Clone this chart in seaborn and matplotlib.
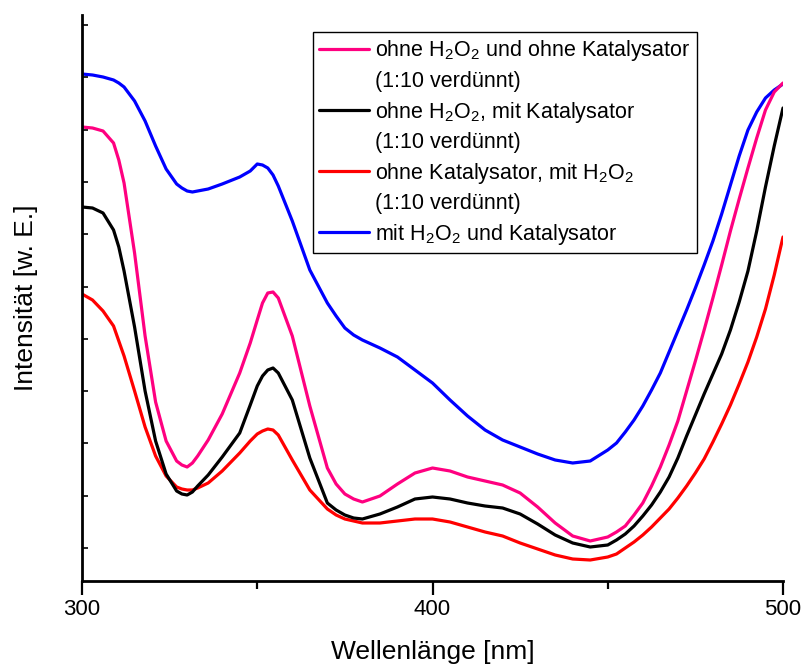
import numpy as np
import pandas as pd
import matplotlib
matplotlib.use("Agg")
import matplotlib.pyplot as plt
from matplotlib.lines import Line2D
import seaborn as sns

# ---- data (arbitrary intensity units) ----
wavelength = [300, 303, 306, 309, 310.5, 312, 315, 318, 321, 324,
              327, 328.5, 330, 331.5, 333, 336, 340, 345, 348, 350,
              351.5, 353, 354.5, 356, 360, 365, 370, 372.5, 375, 377.5,
              380, 385, 390, 395, 400, 405, 410, 415, 420, 425,
              430, 435, 440, 445, 450, 452.5, 455, 457.5, 460, 462.5,
              465, 467.5, 470, 472.5, 475, 477.5, 480, 482.5, 485, 487.5,
              490, 492.5, 495, 497.5, 500]

ohne_h2o2_ohne_kat = [454, 453, 450, 438, 421, 398, 328, 245, 179, 140,
                      120, 116, 114, 118, 125, 141, 167, 208, 238, 261,
                      278, 288, 289, 283, 245, 175, 113, 97, 87, 82,
                      79, 85, 97, 108, 113, 110, 104, 100, 96, 88,
                      74, 58, 45, 40, 44, 49, 55, 66, 78, 95,
                      114, 136, 160, 190, 220, 251, 283, 316, 350, 382,
                      413, 443, 471, 489, 498]

ohne_h2o2_mit_kat = [374, 373, 368, 351, 334, 310, 254, 190, 140, 107,
                     90, 87, 86, 89, 95, 106, 124, 148, 176, 195,
                     205, 211, 213, 208, 181, 123, 78, 71, 66, 63,
                     62, 67, 74, 82, 84, 82, 78, 75, 73, 67,
                     57, 46, 38, 34, 36, 41, 47, 55, 65, 76,
                     89, 104, 123, 145, 166, 187, 207, 227, 251, 279,
                     310, 350, 394, 435, 473]

ohne_kat_mit_h2o2 = [287, 281, 270, 255, 240, 225, 190, 154, 125, 105,
                     94, 92, 91, 91, 93, 98, 110, 128, 140, 147,
                     150, 152, 151, 146, 121, 91, 72, 66, 62, 60,
                     58, 58, 60, 62, 62, 59, 54, 49, 45, 38,
                     32, 26, 22, 21, 24, 27, 33, 39, 46, 54,
                     63, 72, 83, 95, 108, 122, 139, 157, 176, 197,
                     219, 244, 272, 306, 344]

mit_h2o2_mit_kat = [507, 506, 504, 501, 498, 494, 480, 460, 435, 412,
                    397, 393, 390, 389, 390, 392, 397, 404, 410, 417,
                    416, 413, 406, 395, 360, 311, 278, 265, 253, 246,
                    241, 233, 224, 211, 198, 181, 165, 151, 141, 134,
                    127, 121, 118, 120, 131, 138, 149, 161, 175, 191,
                    208, 229, 250, 271, 293, 316, 340, 367, 396, 425,
                    451, 469, 483, 491, 497]

series_names = ["mit H2O2 und Katalysator",
                "ohne Katalysator, mit H2O2",
                "ohne H2O2, mit Katalysator",
                "ohne H2O2 und ohne Katalysator"]
series_values = [mit_h2o2_mit_kat, ohne_kat_mit_h2o2,
                 ohne_h2o2_mit_kat, ohne_h2o2_ohne_kat]
colors = {"ohne H2O2 und ohne Katalysator": "#FF0080",
          "ohne H2O2, mit Katalysator": "#000000",
          "ohne Katalysator, mit H2O2": "#FF0000",
          "mit H2O2 und Katalysator": "#0000FF"}

legend_labels = ["ohne H$_2$O$_2$ und ohne Katalysator", "(1:10 verdünnt)",
                 "ohne H$_2$O$_2$, mit Katalysator", "(1:10 verdünnt)",
                 "ohne Katalysator, mit H$_2$O$_2$", "(1:10 verdünnt)",
                 "mit H$_2$O$_2$ und Katalysator"]
legend_keys = ["ohne H2O2 und ohne Katalysator", None,
               "ohne H2O2, mit Katalysator", None,
               "ohne Katalysator, mit H2O2", None,
               "mit H2O2 und Katalysator"]

rows = []
for name, vals in zip(series_names, series_values):
    for w, v in zip(wavelength, vals):
        rows.append({"wl": w, "val": v, "series": name})
df = pd.DataFrame(rows)

# ---- style ----
sns.set_theme(style="white")
plt.rcParams["font.family"] = ["Liberation Sans", "DejaVu Sans"]
plt.rcParams["mathtext.default"] = "regular"
for k in ["text.color", "axes.labelcolor", "xtick.color", "ytick.color",
          "xtick.labelcolor", "ytick.labelcolor"]:
    plt.rcParams[k] = "black"

fig = plt.figure(figsize=(8.03, 6.66), dpi=100)
ax = fig.add_axes([82 / 803, 85 / 666, 701 / 803, 566 / 666])

sns.lineplot(data=df, x="wl", y="val", hue="series", hue_order=series_names,
             palette=colors, linewidth=2.3, legend=False, ax=ax)
for ln in ax.get_lines():
    ln.set_solid_joinstyle("round")

ax.set_xlim(300, 500)
ax.set_ylim(0, 566)

for s in ["top", "right"]:
    ax.spines[s].set_visible(False)
for s in ["left", "bottom"]:
    ax.spines[s].set_color("black")
    ax.spines[s].set_linewidth(2.0)

ax.set_xticks([300, 400, 500])
ax.set_xticks([350, 450], minor=True)
ax.tick_params(axis="x", which="major", direction="out", length=10, width=1.6,
               color="black", labelcolor="black", labelsize=16, pad=3, bottom=True)
ax.tick_params(axis="x", which="minor", direction="out", length=6, width=1.6,
               color="black", bottom=True)
ax.set_yticks(np.linspace(33, 556, 11))
ax.set_yticklabels([])
ax.tick_params(axis="y", which="major", direction="in", length=4, width=1.2,
               color="black", left=True)

ax.set_xlabel("Wellenlänge [nm]", fontsize=19, labelpad=14, color="black")
ax.set_ylabel("Intensität [w. E.]", fontsize=19, labelpad=28, color="black")

handles = []
for key in legend_keys:
    if key is None:
        handles.append(Line2D([], [], color="none", linewidth=0))
    else:
        handles.append(Line2D([], [], color=colors[key], linewidth=2.3))
leg = ax.legend(handles, legend_labels, loc="upper left",
                bbox_to_anchor=(0.3295, 0.97), borderaxespad=0,
                fontsize=15.5, handlelength=2.3, handletextpad=0.3,
                labelspacing=0.35, borderpad=0.3, fancybox=False,
                framealpha=1, edgecolor="black")
leg.get_frame().set_linewidth(1.0)
for t in leg.get_texts():
    t.set_color("black")

fig.savefig("out.png", dpi=100)
